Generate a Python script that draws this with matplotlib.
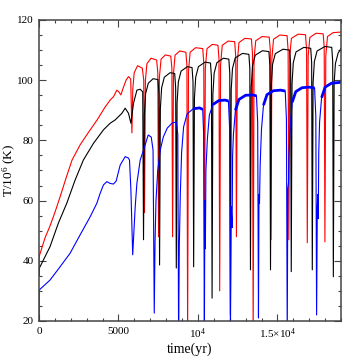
import numpy as np
import matplotlib
matplotlib.use("Agg")
import matplotlib.pyplot as plt
from matplotlib.ticker import MultipleLocator, FixedLocator, FixedFormatter

# ------------------------ Data ------------------------

# red curve: time (yr), T/10^6 K
red_t = [0, 15, 378, 694, 1009, 1324, 1702, 2081, 2585, 3089, 3657, 4161, 4477, 4685, 4899, 5012, 5151, 5296, 5485, 5630, 5769,
         5845, 5900, 5990, 6200, 6500, 6590,
         6639, 6695, 6790, 7050, 7400, 7475,
         7522, 7575, 7680, 7950, 8290, 8360,
         8405, 8460, 8560, 8850, 9240, 9305,
         9350, 9405, 9510, 9850, 10300, 10365,
         10410, 10465, 10570, 10900, 11260, 11323,
         11368, 11423, 11530, 11900, 12310, 12376,
         12421, 12476, 12580, 12950, 13365, 13429,
         13474, 13529, 13635, 14030, 14485, 14551,
         14596, 14651, 14755, 15150, 15607, 15673,
         15718, 15773, 15880, 16300, 16768, 16834,
         16879, 16934, 17040, 17430, 17877, 17943,
         17988, 18043, 18150, 18500, 19000]
red_T = [35, 41.5, 47.6, 51.6, 56.2, 61.2, 67.5, 73.5, 78.5, 82.5, 86.8, 91.1, 93.4, 94.5, 96.7, 96.2, 95.1, 97.4, 100.1, 101.2, 100.4,
         82.5, 97, 102.5, 104.8, 104, 100,
         56, 100, 105.5, 107.3, 106.7, 102.5,
         48, 101, 107, 108.4, 108, 104,
         48, 102, 108.3, 109.7, 109.3, 105,
         15, 103, 109.3, 110.8, 110.5, 106,
         44, 104, 110.5, 111.9, 111.6, 107,
         30, 105, 111.6, 113.0, 112.8, 108,
         48, 106, 112.5, 113.9, 113.7, 109,
         15, 107, 113.1, 114.5, 114.3, 110,
         47, 107, 113.6, 115.0, 114.8, 110,
         47, 108, 113.9, 115.3, 115.1, 110,
         46, 108, 114.2, 115.6, 115.4, 111,
         46.3, 108, 114.5, 115.8, 116]

# black curve
black_t = [0, 15, 694, 1217, 1746, 2270, 2793, 3424, 4054, 4477, 4792, 5214, 5422, 5630, 5782, 5945, 6160, 6368, 6526,
           6576, 6626, 6706, 6876, 7180, 7485, 7545,
           7585, 7635, 7715, 7885, 8250, 8538, 8598,
           8638, 8688, 8768, 8938, 9330, 9629, 9689,
           9729, 9779, 9859, 10029, 10450, 10789, 10849,
           10889, 10939, 11019, 11189, 11600, 11943, 12003,
           12043, 12093, 12173, 12343, 12800, 13204, 13264,
           13304, 13354, 13434, 13604, 14060, 14465, 14525,
           14565, 14615, 14695, 14865, 15350, 15770, 15830,
           15870, 15920, 16000, 16170, 16660, 17094, 17154,
           17194, 17244, 17324, 17494, 17990, 18418, 18478,
           18518, 18568, 18648, 18818, 19000]
black_T = [35, 37.5, 44.7, 52.5, 59.1, 66.8, 73.5, 79.0, 83.5, 85.7, 86.8, 89.0, 90.7, 89.0, 85.7, 92.3, 96.7, 97.0, 96.1,
           47, 88.5, 95.5, 99, 100.5, 100.2, 95.5,
           38.6, 90.5, 97.5, 101, 102.5, 102.2, 97.5,
           37.6, 92.5, 99.5, 103, 104.5, 104.2, 99.5,
           38, 94, 101, 104.5, 106, 105.7, 101,
           27.6, 95.3, 102.3, 105.8, 107.3, 107, 102.3,
           22, 96.9, 103.9, 107.4, 108.9, 108.6, 103.9,
           37, 97.8, 104.8, 108.3, 109.8, 109.5, 104.8,
           37, 98.3, 105.3, 108.8, 110.3, 110, 105.3,
           36.4, 98.9, 105.9, 109.4, 110.9, 110.6, 105.9,
           37, 99.2, 106.2, 109.7, 111.2, 110.9, 106.2,
           34.7, 99, 105.5, 109, 110.5]

# blue curve
blue_t = [0, 15, 694, 1324, 1955, 2585, 3216, 3638, 3846, 4054, 4268, 4477, 4685, 4855, 5107, 5422, 5611, 5693, 5782,
          5895, 6053, 6160, 6368, 6576, 6872, 7061, 7175,
          7251, 7300, 7360, 7471, 7629, 7818, 8070, 8386, 8638, 8733,
          8783, 8827, 8890, 8972, 9098, 9320, 9700, 10100, 10300, 10360,
          10403, 10435, 10466, 10500, 10592, 10718, 10939, 11300, 11700, 11917, 11993,
          12043, 12090, 12150, 12180, 12232, 12358, 12579, 13000, 13450, 13682, 13758,
          13808, 13840, 13871, 13915, 13997, 14123, 14344, 14750, 15200, 15491, 15567,
          15617, 15655, 15700, 15724, 15806, 15932, 16153, 16550, 17000, 17339, 17415,
          17465, 17509, 17540, 17571, 17600, 17654, 17780, 18001, 18400, 19000]
blue_T = [20, 30.3, 33.6, 38.0, 42.5, 48.6, 54.6, 59.1, 62.4, 65.2, 66.3, 65.7, 65.5, 66.5, 71.8, 74.6, 74.2, 73.5, 63.5,
          42, 58, 65.8, 73.5, 76.8, 81.8, 81.1, 76.8,
          22.6, 46, 60, 70, 76.8, 81.1, 84.1, 85.8, 86.1, 82,
          15, 45, 62, 76, 84.5, 88.8, 90.5, 90.8, 90.3, 82,
          15, 60, 44, 70, 80.4, 88.4, 91.9, 93.2, 93.4, 93.1, 84,
          15, 58, 51, 75, 82, 90, 93.6, 95, 95.1, 94.8, 86,
          21, 62, 59, 72, 83.7, 91.7, 95.2, 96.5, 96.7, 96.4, 87,
          15, 64, 66, 75, 84.7, 92.7, 96.2, 97.5, 97.7, 97.4, 88,
          22, 58, 62, 54, 76, 86.2, 94.2, 97.7, 99, 99.3]

x_ticks = [0, 5000, 10000, 15000]
x_labels = ['0', '5000', r'$10^4$', r'$1.5{\times}10^4$']
y_ticks = [20, 40, 60, 80, 100, 120]

# ------------------------ Plot ------------------------

plt.rcParams['font.family'] = ['Liberation Serif', 'DejaVu Serif']
plt.rcParams['mathtext.fontset'] = 'custom'
plt.rcParams['mathtext.rm'] = 'Liberation Serif'
plt.rcParams['mathtext.it'] = 'Liberation Serif:italic'

fig = plt.figure(figsize=(3.6, 3.6), dpi=100)
ax = fig.add_axes([39/360, 39/360, 302/360, 301/360])

ax.plot(red_t, red_T, color='red', lw=0.8)
ax.plot(black_t, black_T, color='black', lw=0.8)
ax.plot(blue_t, blue_T, color='blue', lw=0.8)

# the later blue plateaus are noisy, drawn as a thicker band
bt = np.array(blue_t, dtype=float)
bT = np.array(blue_T, dtype=float)
thick = np.where((bT > 89) & (bt > 8800), bT, np.nan)
ax.plot(bt, thick, color='blue', lw=2.0, solid_capstyle='butt')

ax.set_xlim(0, 19000)
ax.set_ylim(20, 120)

ax.xaxis.set_major_locator(FixedLocator(x_ticks))
ax.xaxis.set_major_formatter(FixedFormatter(x_labels))
ax.xaxis.set_minor_locator(MultipleLocator(1000))
ax.yaxis.set_major_locator(FixedLocator(y_ticks))
ax.yaxis.set_minor_locator(MultipleLocator(5))

ax.tick_params(which='both', direction='in', top=True, right=True, labelsize=8, color='#444444')
ax.tick_params(which='major', length=5, width=0.8, pad=4)
ax.tick_params(which='minor', length=2.5, width=0.8)
for s in ax.spines.values():
    s.set_linewidth(1.1)
    s.set_color('#444444')

ax.set_xlabel('time(yr)', fontsize=10, labelpad=1)
ax.set_ylabel(r'T/10$^6$ (K)', fontsize=9.5)
ax.yaxis.set_label_coords(-0.068, 0.5)

fig.savefig('out.png', dpi=100)
